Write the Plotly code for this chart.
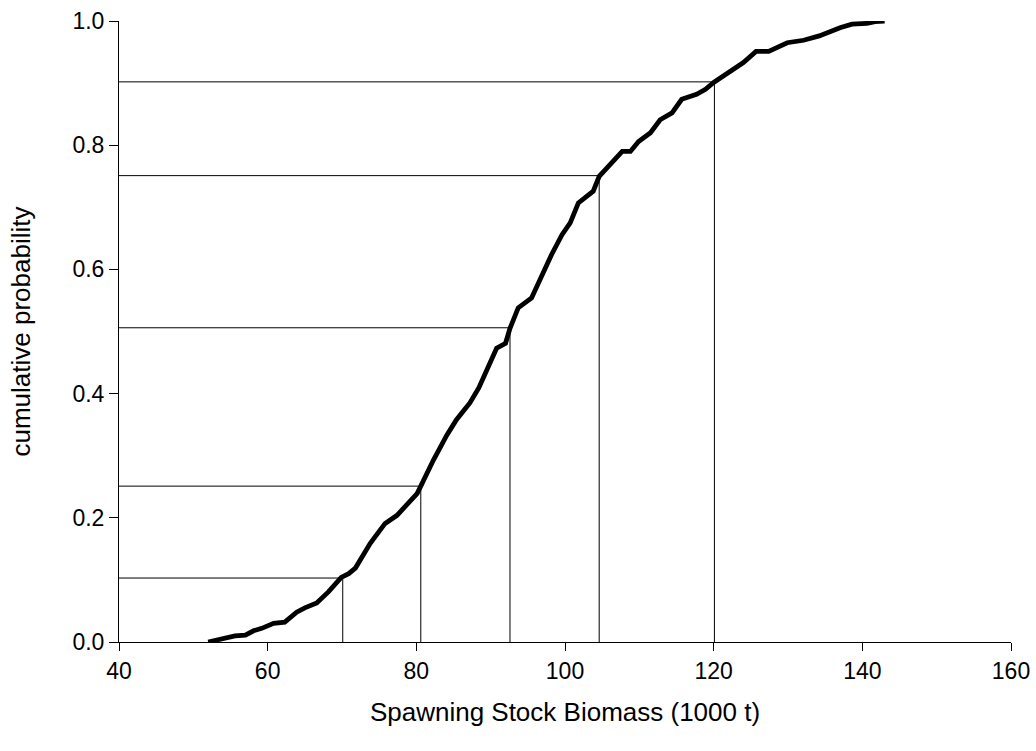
import plotly.graph_objects as go

# Empirical cumulative distribution of spawning stock biomass (1000 t)
ssb = [52.0, 53.6, 55.6, 57.0, 58.1, 59.2, 60.8, 62.3, 63.0, 63.9, 65.0, 66.6,
       68.2, 69.9, 70.9, 71.8, 73.8, 75.1, 75.8, 77.4, 80.1, 80.6, 82.3, 84.1,
       85.4, 87.2, 88.4, 90.8, 92.0, 92.6, 93.7, 95.5, 96.7, 98.2, 99.6, 100.7,
       101.8, 103.8, 104.6, 105.9, 106.3, 107.7, 108.8, 109.9, 111.5, 112.8,
       114.4, 115.7, 117.7, 118.9, 120.0, 121.3, 122.7, 124.0, 125.7, 127.4,
       129.9, 132.1, 134.2, 135.7, 137.0, 138.6, 140.6, 141.7, 143.0]
cum_prob = [0.000, 0.005, 0.010, 0.011, 0.018, 0.022, 0.030, 0.032, 0.038, 0.048,
            0.055, 0.063, 0.081, 0.104, 0.110, 0.119, 0.159, 0.180, 0.191, 0.204,
            0.239, 0.251, 0.293, 0.333, 0.358, 0.385, 0.409, 0.473, 0.481, 0.505,
            0.538, 0.554, 0.586, 0.624, 0.656, 0.675, 0.707, 0.726, 0.750, 0.766,
            0.772, 0.790, 0.790, 0.806, 0.820, 0.841, 0.852, 0.874, 0.882, 0.890,
            0.901, 0.911, 0.922, 0.933, 0.951, 0.951, 0.965, 0.969, 0.976, 0.984,
            0.989, 0.995, 0.996, 0.999, 1.000]

# Percentile markers: probability level and the matching biomass
pct_levels = [0.103, 0.251, 0.506, 0.751, 0.902]
pct_ssb = [70.1, 80.6, 92.6, 104.6, 120.1]

x_ticks = [40, 60, 80, 100, 120, 140, 160]
y_ticks = [0.0, 0.2, 0.4, 0.6, 0.8, 1.0]
y_tick_text = ["0.0", "0.2", "0.4", "0.6", "0.8", "1.0"]

FONT = "Liberation Sans, Arial, sans-serif"

fig = go.Figure()

# Drop lines from the y axis to the curve and down to the x axis
for p, b in zip(pct_levels, pct_ssb):
    fig.add_trace(go.Scatter(
        x=[40, b, b], y=[p, p, 0], mode="lines",
        line=dict(color="#000000", width=1), hoverinfo="skip", showlegend=False))

fig.add_trace(go.Scatter(
    x=ssb, y=cum_prob, mode="lines",
    line=dict(color="#000000", width=4.8), showlegend=False))

fig.update_layout(
    width=1036, height=751,
    margin=dict(l=119, r=25, t=21, b=109, autoexpand=False),
    paper_bgcolor="white", plot_bgcolor="white",
    font=dict(family=FONT, color="black", size=23),
)
fig.update_xaxes(
    range=[40, 160], tickvals=x_ticks, showgrid=False, zeroline=False,
    showline=True, linecolor="black", linewidth=1, automargin=False,
    ticks="outside", ticklen=8, tickcolor="black", tickwidth=1,
    tickfont=dict(size=23, family=FONT),
    title=dict(text="Spawning Stock Biomass (1000 t)", font=dict(size=26, family=FONT), standoff=20),
)
fig.update_yaxes(
    range=[0, 1.0], tickvals=y_ticks, ticktext=y_tick_text, showgrid=False, zeroline=False,
    showline=True, linecolor="black", linewidth=1, automargin=False,
    ticks="outside", ticklen=9, tickcolor="black", tickwidth=1,
    tickfont=dict(size=23, family=FONT),
    title=dict(text="cumulative probability", font=dict(size=26, family=FONT), standoff=34),
)

fig.write_html("out.html")
